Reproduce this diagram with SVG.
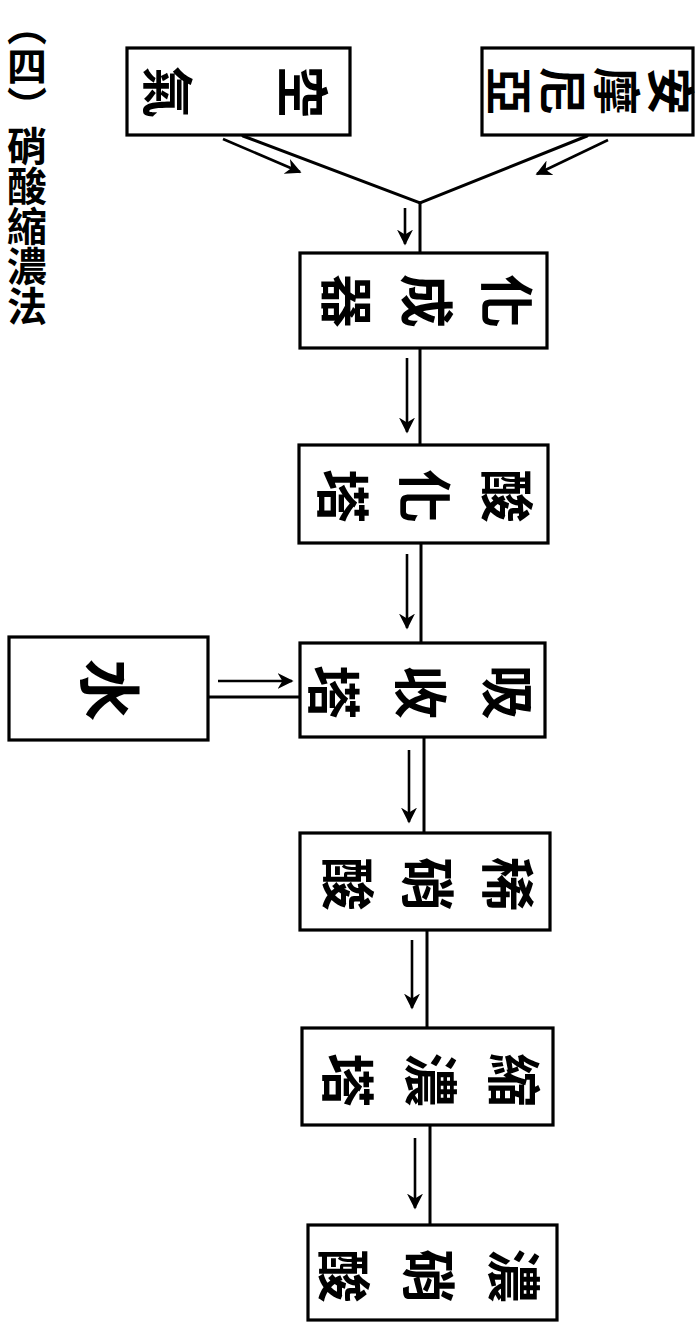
<svg xmlns="http://www.w3.org/2000/svg" width="696" height="1322" viewBox="0 0 696 1322">
<style>
.box{fill:#fff;stroke:#000;stroke-width:3.2}
.ln{stroke:#000;stroke-width:3;fill:none;stroke-linecap:round}
.ar{stroke:#000;stroke-width:2.6;fill:none}
.lbl{font-family:"Noto Sans CJK TC","Noto Sans CJK SC",sans-serif;font-weight:700;fill:#000;writing-mode:vertical-rl;text-anchor:middle}
.ttl{font-family:"Noto Sans CJK TC","Noto Sans CJK SC",sans-serif;font-weight:700;font-size:40px;fill:#000;writing-mode:vertical-rl}
</style>
<defs>
<marker id="ah" viewBox="0 0 10 10" refX="9" refY="5" markerWidth="16" markerHeight="16" markerUnits="userSpaceOnUse" orient="auto">
<path d="M0,0 L10,5 L0,10 L3,5 Z" fill="#000"/>
</marker>
</defs>
<rect width="696" height="1322" fill="#fff"/>
<g id="title">
<text class="ttl" x="27" y="6">（四）硝酸縮濃法</text>
</g>
<g id="connectors">
<polyline class="ln" points="243,136 420,203 587,136"/>
<line class="ln" x1="420" y1="203" x2="420" y2="253"/>
<line class="ln" x1="420" y1="348" x2="420" y2="445"/>
<line class="ln" x1="421" y1="543" x2="421" y2="643"/>
<line class="ln" x1="424" y1="737" x2="424" y2="833"/>
<line class="ln" x1="427" y1="930" x2="427" y2="1028"/>
<line class="ln" x1="430" y1="1125" x2="430" y2="1225"/>
<line class="ln" x1="208" y1="697" x2="300" y2="697"/>
<line class="ar" x1="223" y1="139" x2="300" y2="172" marker-end="url(#ah)"/>
<line class="ar" x1="608" y1="140" x2="537" y2="174" marker-end="url(#ah)"/>
<line class="ar" x1="405" y1="208" x2="405" y2="244" marker-end="url(#ah)"/>
<line class="ar" x1="407" y1="358" x2="407" y2="432" marker-end="url(#ah)"/>
<line class="ar" x1="407" y1="554" x2="407" y2="628" marker-end="url(#ah)"/>
<line class="ar" x1="409" y1="750" x2="409" y2="822" marker-end="url(#ah)"/>
<line class="ar" x1="412" y1="940" x2="412" y2="1008" marker-end="url(#ah)"/>
<line class="ar" x1="415" y1="1138" x2="415" y2="1208" marker-end="url(#ah)"/>
<line class="ar" x1="218" y1="681" x2="292" y2="681" marker-end="url(#ah)"/>
</g>
<g id="n-air">
<rect class="box" x="127" y="48" width="223" height="87"/>
<text class="lbl" style="font-size:52px;letter-spacing:83px" transform="translate(235,92) rotate(90)" x="0" y="41">空氣</text>
</g>
<g id="n-ammonia">
<rect class="box" x="482" y="48" width="211" height="87"/>
<text class="lbl" style="font-size:48px;letter-spacing:6px" transform="translate(590,91) rotate(90)" x="0" y="3">安摩尼亞</text>
</g>
<g id="n-converter">
<rect class="box" x="300" y="253" width="247" height="95"/>
<text class="lbl" style="font-size:54px;letter-spacing:26px" transform="translate(427,301) rotate(90)" x="0" y="13">化成器</text>
</g>
<g id="n-oxidation">
<rect class="box" x="299" y="445" width="249" height="98"/>
<text class="lbl" style="font-size:54px;letter-spacing:28px" transform="translate(425,496) rotate(90)" x="0" y="14">酸化塔</text>
</g>
<g id="n-water">
<rect class="box" x="9" y="637" width="199" height="103"/>
<text class="lbl" style="font-size:62px" transform="translate(110,690) rotate(90)" x="0" y="0">水</text>
</g>
<g id="n-absorption">
<rect class="box" x="300" y="643" width="245" height="94"/>
<text class="lbl" style="font-size:54px;letter-spacing:33px" transform="translate(420,692) rotate(90)" x="0" y="16">吸收塔</text>
</g>
<g id="n-dilute">
<rect class="box" x="300" y="833" width="250" height="97"/>
<text class="lbl" style="font-size:54px;letter-spacing:26px" transform="translate(428,884) rotate(90)" x="0" y="13">稀硝酸</text>
</g>
<g id="n-concentrator">
<rect class="box" x="302" y="1028" width="251" height="97"/>
<text class="lbl" style="font-size:54px;letter-spacing:29px" transform="translate(430,1080) rotate(90)" x="0" y="14">縮濃塔</text>
</g>
<g id="n-concentrated">
<rect class="box" x="308" y="1225" width="249" height="95"/>
<text class="lbl" style="font-size:54px;letter-spacing:31px" transform="translate(428,1276) rotate(90)" x="0" y="15">濃硝酸</text>
</g>
</svg>
